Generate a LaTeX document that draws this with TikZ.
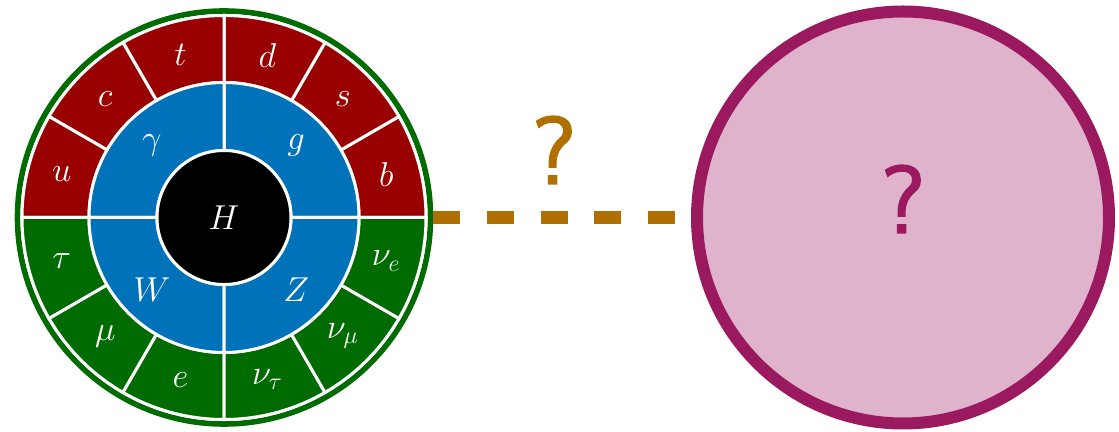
\documentclass[tikz,border=0pt]{standalone}
\usepackage{amsmath,amssymb}
\usepackage{fontspec}
\newfontfamily\qfont[FakeBold=1.6]{lmsans10-regular.otf}
\usetikzlibrary{positioning}
\definecolor{quarkred}{HTML}{990000}
\definecolor{leptongreen}{HTML}{006B00}
\definecolor{bosonblue}{HTML}{0072B9}
\definecolor{linkorange}{HTML}{B07000}
\definecolor{bsmpurple}{HTML}{9B1A5F}
\definecolor{bsmfill}{HTML}{DFB3CB}
\tikzset{
  sector/.style={draw=white,line width=1.5pt},
  particle/.style={text=white,font=\LARGE,inner sep=0pt},
  qmark/.style={font=\fontsize{48}{50}\selectfont\qfont,inner sep=0pt},
  link/.style={linkorange,line width=6.5pt,dash pattern=on 13.5pt off 13.3pt}
}
\begin{document}
\begin{tikzpicture}[x=0.5pt,y=0.5pt]
  \useasboundingbox (-224,-214.5) rectangle (895,217.5);

  \node[circle,draw=leptongreen,line width=2.8pt,minimum size=206.5pt,inner sep=0pt] (sm) at (0,0) {};

  \foreach \a/\lab/\col [count=\i] in {0/b/quarkred,30/s/quarkred,60/d/quarkred,
      90/t/quarkred,120/c/quarkred,150/u/quarkred,180/\tau/leptongreen,210/\mu/leptongreen,
      240/e/leptongreen,270/\nu_\tau/leptongreen,300/\nu_\mu/leptongreen,330/\nu_e/leptongreen} {
    \filldraw[sector,fill=\col] (\a:202) arc[start angle=\a,end angle=\a+30,radius=202]
      -- (\a+30:135) arc[start angle=\a+30,end angle=\a,radius=135] -- cycle;
    \node[particle] (f\i) at (\a+15:168) {$\lab$};
  }
  \foreach \a/\lab [count=\i] in {0/g,90/\gamma,180/W,270/Z} {
    \filldraw[sector,fill=bosonblue] (\a:135) arc[start angle=\a,end angle=\a+90,radius=135]
      -- (\a+90:67) arc[start angle=\a+90,end angle=\a,radius=67] -- cycle;
    \node[particle] (b\i) at (\a+45:102) {$\lab$};
  }
  \node[circle,fill=black,draw=white,line width=1.5pt,minimum size=67pt,text=white,font=\LARGE] (h) at (0,0) {$H$};

  \node[circle,fill=bsmfill,draw=bsmpurple,line width=6pt,minimum size=206pt,inner sep=0pt] (bsm) at (679,0) {};
  \node[qmark,text=bsmpurple] (bsmq) at (679,18.5) {?};

  \draw[link] (sm) -- (bsm);
  \node[qmark,text=linkorange] (linkq) at (330,67.5) {?};
\end{tikzpicture}
\end{document}
